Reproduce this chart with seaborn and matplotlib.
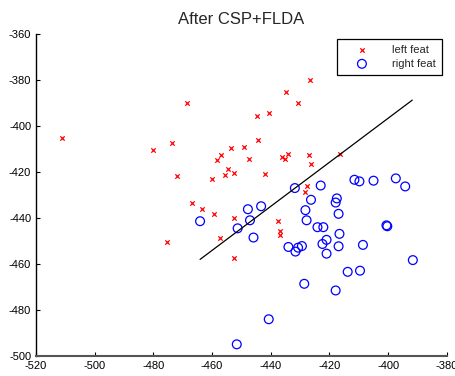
import matplotlib
matplotlib.use("Agg")
import matplotlib.pyplot as plt
import seaborn as sns
import pandas as pd

left_x = [-511.3, -468.4, -473.7, -480.0, -453.5, -449.3, -447.5, -457.0, -458.4, -454.5,
          -455.7, -452.6, -472.1, -459.9, -426.5, -434.8, -430.8, -444.6, -440.6, -444.4,
          -436.2, -435.3, -434.1, -427.1, -426.4, -416.3, -442.1, -427.5, -428.4, -466.9,
          -463.4, -459.2, -452.4, -437.7, -436.8, -437.0, -457.3, -475.2, -452.4]
left_y = [-405.4, -390.1, -407.5, -410.3, -409.6, -409.1, -414.2, -412.5, -415.0, -418.6,
          -421.2, -420.6, -421.9, -423.2, -379.9, -385.2, -390.1, -395.5, -394.3, -406.1,
          -413.6, -414.5, -412.3, -412.8, -416.6, -412.3, -421.0, -425.9, -428.6, -433.4,
          -436.3, -438.2, -439.9, -441.3, -445.8, -447.4, -448.7, -450.3, -457.3]

right_x = [-431.8, -447.8, -443.3, -464.1, -447.1, -451.3, -445.9, -434.0, -431.6, -430.7,
           -429.4, -428.6, -440.7, -451.6, -428.2, -427.8, -423.0, -411.5, -409.8, -405.0,
           -397.4, -394.2, -426.3, -417.5, -417.9, -416.9, -424.1, -422.1, -400.6, -400.3,
           -416.6, -421.0, -422.4, -416.9, -408.6, -421.0, -391.6, -413.8, -409.6, -417.9]
right_y = [-427.0, -436.2, -434.9, -441.4, -441.0, -444.5, -448.5, -452.6, -454.6, -452.9,
           -452.2, -468.6, -484.0, -494.9, -436.6, -441.0, -425.9, -423.4, -424.1, -423.8,
           -422.8, -426.3, -432.1, -431.5, -433.3, -438.2, -444.0, -444.0, -443.2, -443.6,
           -446.9, -449.5, -451.3, -452.3, -451.7, -455.5, -458.3, -463.4, -462.9, -471.5]

line_x = [-464.1, -391.8]
line_y = [-458.0, -388.8]

x_ticks = [-520, -500, -480, -460, -440, -420, -400, -380]
y_ticks = [-500, -480, -460, -440, -420, -400, -380, -360]

sns.set_style("white")
plt.rcParams["font.family"] = ["Liberation Sans", "DejaVu Sans"]
plt.rcParams["axes.unicode_minus"] = False

fig = plt.figure(figsize=(4.56, 3.76), dpi=100)
ax = fig.add_axes([0.079, 0.053, 0.901, 0.857])

left = pd.DataFrame({"x": left_x, "y": left_y})
right = pd.DataFrame({"x": right_x, "y": right_y})

sns.lineplot(x=line_x, y=line_y, color="black", linewidth=0.9, ax=ax)
sns.scatterplot(data=left, x="x", y="y", marker="x", color="red", s=10,
                linewidth=0.9, label="left feat", ax=ax)
sns.scatterplot(data=right, x="x", y="y", marker="o", facecolor="none",
                edgecolor="blue", s=40, linewidth=0.9, label="right feat", ax=ax)

ax.set_xlim(-520, -380)
ax.set_ylim(-500, -360)
ax.set_xticks(x_ticks)
ax.set_yticks(y_ticks)
ax.set_xlabel("")
ax.set_ylabel("")
ax.tick_params(direction="in", length=3, width=0.8, labelsize=8, colors="black",
               bottom=True, left=True)
for side in ["top", "right"]:
    ax.spines[side].set_visible(False)
ax.spines["left"].set_color("black")
ax.spines["bottom"].set_color("#555555")
ax.spines["left"].set_linewidth(1.0)
ax.spines["bottom"].set_linewidth(1.5)

ax.set_title("After CSP+FLDA", fontsize=12, pad=7)

leg = ax.legend(loc="upper right", bbox_to_anchor=(0.993, 0.99), fontsize=8,
                frameon=True, fancybox=False, edgecolor="black", framealpha=1,
                borderpad=0.55, handlelength=3.4, handletextpad=1.0, labelspacing=0.3,
                borderaxespad=0.2)
leg.get_frame().set_linewidth(0.9)

fig.savefig("out.png", dpi=100)
